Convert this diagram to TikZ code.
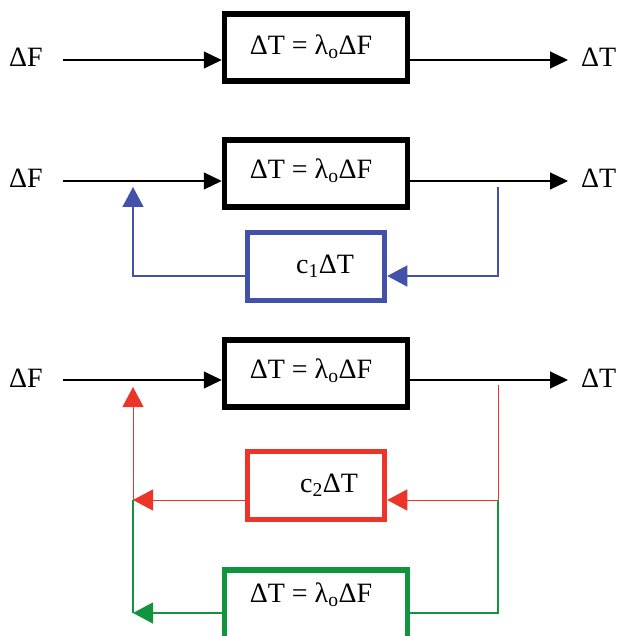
\documentclass[tikz,border=0pt]{standalone}
\usepackage{fontspec}
\setmainfont{Liberation Serif}
\usetikzlibrary{arrows.meta}
\definecolor{fbblue}{RGB}{66,82,170}
\definecolor{fbred}{RGB}{236,52,40}
\definecolor{fbgreen}{RGB}{16,148,62}
\begin{document}
\begin{tikzpicture}[x=1pt,y=-1pt,
  font=\fontsize{28}{32}\selectfont,
  bigbox/.style={draw, line width=5.5pt, minimum width=183pt, minimum height=67pt, inner sep=0pt},
  smallbox/.style={draw, line width=5.5pt, minimum width=137pt, minimum height=68pt, inner sep=0pt},
  txt/.style={inner sep=0pt},
  lbl/.style={inner sep=0pt, anchor=base west},
  flow/.style={line width=1.2pt, -{Triangle[length=18pt,width=17pt]}},
  fbline/.style={line width=1.3pt},
  fbarrow/.style={line width=1.3pt, -{Triangle[length=20pt,width=21pt]}}]
\useasboundingbox (0,0) rectangle (619,636);

% ---------- open loop ----------
\node[lbl] (in1) at (9,67) {ΔF};
\node[lbl] (out1) at (581,67) {ΔT};
\node[bigbox] (b1) at (316,47.5) {};
\node[txt] (b1t) at (311,46.5) {ΔT = λ\textsubscript{o}ΔF};
\coordinate (s1) at (63,60);
\coordinate (t1) at (568,60);
\draw[flow] (s1) -- (b1.west |- s1);
\draw[flow] (b1.east |- s1) -- (t1);

% ---------- single feedback ----------
\node[lbl] (in2) at (9,188) {ΔF};
\node[lbl] (out2) at (581,188) {ΔT};
\node[bigbox] (b2) at (316,173.5) {};
\node[txt] (b2t) at (311,171) {ΔT = λ\textsubscript{o}ΔF};
\coordinate (s2) at (63,181);
\coordinate (t2) at (568,181);
\draw[flow] (s2) -- (b2.west |- s2);
\draw[flow] (b2.east |- s2) -- (t2);

\node[smallbox, draw=fbblue] (c1) at (316,266.5) {};
\node[txt] (c1t) at (325,266) {c\textsubscript{1}ΔT};
\coordinate (r2) at (498,187);
\coordinate (j2) at (498,276);
\coordinate (k2) at (133,276);
\coordinate (u2) at (133,187);
\draw[fbarrow, draw=fbblue, line width=1.5pt] (r2) -- (j2) -- (c1.east |- j2);
\draw[fbarrow, draw=fbblue, line width=1.5pt] (c1.west |- j2) -- (k2) -- (u2);

% ---------- two feedbacks ----------
\node[lbl] (in3) at (9,387) {ΔF};
\node[lbl] (out3) at (581,387) {ΔT};
\node[bigbox] (b3) at (316,373.5) {};
\node[txt] (b3t) at (311,371) {ΔT = λ\textsubscript{o}ΔF};
\coordinate (s3) at (63,380);
\coordinate (t3) at (568,380);
\draw[flow] (s3) -- (b3.west |- s3);
\draw[flow] (b3.east |- s3) -- (t3);

\node[smallbox, draw=fbred] (c2) at (316,485.5) {};
\node[txt] (c2t) at (329,485) {c\textsubscript{2}ΔT};
\node[bigbox, draw=fbgreen, minimum height=70pt] (g3) at (316,605) {};
\node[txt] (g3t) at (311,595) {ΔT = λ\textsubscript{o}ΔF};

\coordinate (r3) at (498,385);
\coordinate (j3) at (498,500);
\coordinate (k3) at (133,500);
\coordinate (u3) at (133,387);
\coordinate (m3) at (498,613);
\coordinate (n3) at (133,613);
\draw[fbarrow, draw=fbred, line width=1pt] (r3) -- (j3) -- (c2.east |- j3);
\draw[fbarrow, draw=fbred, line width=1pt] (c2.west |- j3) -- (k3);
\draw[fbarrow, draw=fbred, line width=1pt] (k3) -- (u3);
\draw[fbline, draw=fbgreen, line width=1.2pt] (j3) -- (m3) -- (g3.east |- m3);
\draw[fbarrow, draw=fbgreen, line width=1.2pt] (g3.west |- m3) -- (n3);
\draw[fbline, draw=fbgreen, line width=1.2pt] (n3) -- (k3);
\end{tikzpicture}
\end{document}
